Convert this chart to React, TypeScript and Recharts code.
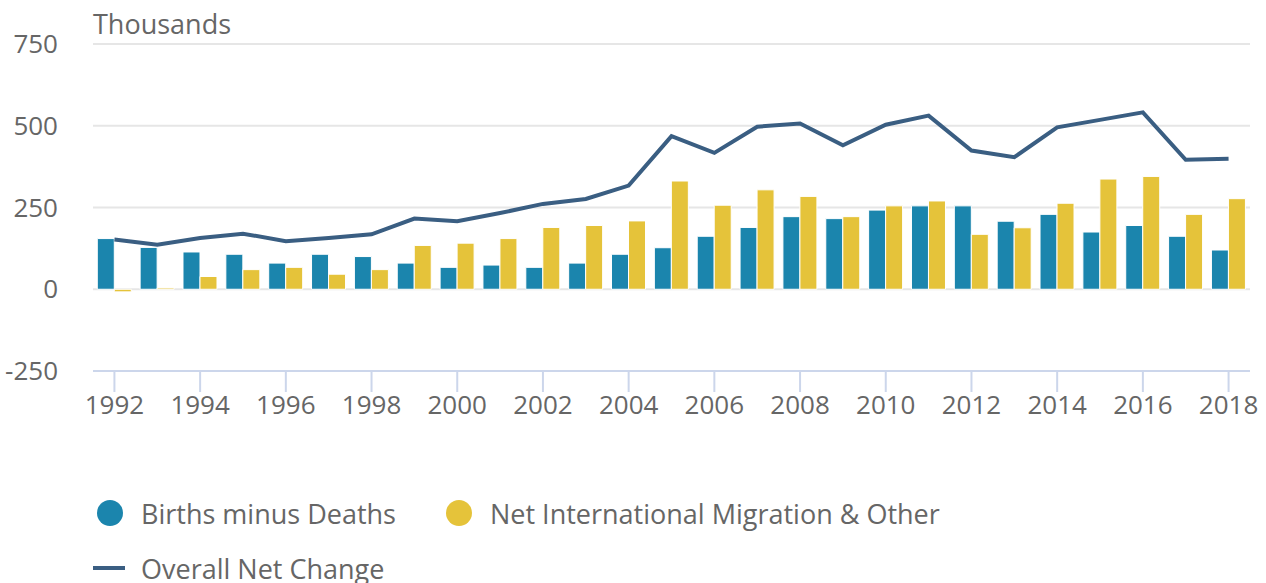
import React from 'react';
import { ComposedChart, Bar, Line, XAxis, YAxis, CartesianGrid, Legend } from 'recharts';

const years = ['1992','1993','1994','1995','1996','1997','1998','1999','2000','2001','2002','2003','2004','2005','2006','2007','2008','2009','2010','2011','2012','2013','2014','2015','2016','2017','2018'];
const birthsMinusDeaths = [155,128,114,107,80,107,100,80,67,74,67,80,107,127,162,189,222,216,242,255,255,208,229,175,195,162,120];
const netMigration = [-8,4,39,60,67,46,60,134,141,155,189,195,209,331,257,304,284,222,255,270,168,188,263,337,345,229,277];
const overallNet = [152,136,157,170,147,157,168,216,208,233,261,276,317,468,417,497,507,440,503,531,424,404,495,518,541,396,399];
const yTicks = [-250, 0, 250, 500, 750];

const data = years.map((y, i) => ({
  year: y,
  births: birthsMinusDeaths[i],
  migration: netMigration[i],
  net: overallNet[i],
}));

const FONT = '"Open Sans", sans-serif';
const TEXT = '#666666';
const BLUE = '#1b85ad';
const YELLOW = '#e5c33a';
const LINE = '#3a5e82';

const XTick = (props: any) => {
  const { x, y, payload } = props;
  return (
    <text x={x} y={y + 20} textAnchor="middle" fontFamily={FONT} fontSize={26} fill={TEXT}>
      {payload.value}
    </text>
  );
};

const YTick = (props: any) => {
  const { x, y, payload } = props;
  return (
    <text x={x} y={y + 9} textAnchor="end" fontFamily={FONT} fontSize={26} fill={TEXT}>
      {payload.value}
    </text>
  );
};

const TitleLabel = (props: any) => {
  const vb = props.viewBox || {};
  return (
    <text x={(vb.x || 0) + (vb.width || 0)} y={(vb.y || 0) - 10} textAnchor="start" fontFamily={FONT} fontSize={27} fill={TEXT}>
      Thousands
    </text>
  );
};

const renderLegend = (props: any) => {
  const payload = props.payload || [];
  const circles = payload.filter((p: any) => p.type !== 'line');
  const lines = payload.filter((p: any) => p.type === 'line');
  return (
    <div style={{ position: 'relative', width: 1266, height: 98, fontFamily: FONT, fontSize: 27, color: TEXT }}>
      <div style={{ position: 'absolute', left: 97, top: 1, height: 54, display: 'flex', alignItems: 'center' }}>
        {circles.map((p: any, i: number) => (
          <div key={i} style={{ display: 'flex', alignItems: 'center', marginRight: 50 }}>
            <span style={{ display: 'inline-block', width: 26, height: 26, borderRadius: 13, background: p.color, marginRight: 18 }} />
            <span style={{ whiteSpace: 'nowrap' }}>{p.value}</span>
          </div>
        ))}
      </div>
      <div style={{ position: 'absolute', left: 93, top: 56, height: 54, display: 'flex', alignItems: 'center' }}>
        {lines.map((p: any, i: number) => (
          <div key={i} style={{ display: 'flex', alignItems: 'center' }}>
            <span style={{ display: 'inline-block', width: 32, height: 4, background: p.color, marginRight: 16 }} />
            <span style={{ whiteSpace: 'nowrap' }}>{p.value}</span>
          </div>
        ))}
      </div>
    </div>
  );
};

export default function App() {
  return (
    <div style={{ position: 'absolute', left: 0, top: 0, width: 1266, height: 583, background: '#fff' }}>
      <ComposedChart
        width={1266}
        height={583}
        data={data}
        margin={{ top: 44, right: 16, bottom: 172, left: 0 }}
        barCategoryGap="10%"
        barGap={0}
      >
        <CartesianGrid vertical={false} stroke="#e6e6e6" strokeWidth={2} />
        <XAxis
          dataKey="year"
          interval={1}
          height={40}
          tickSize={21}
          tickMargin={2}
          axisLine={{ stroke: '#ccd6eb', strokeWidth: 2 }}
          tickLine={{ stroke: '#ccd6eb', strokeWidth: 2 }}
          tick={<XTick />}
        />
        <YAxis
          width={93}
          domain={[-250, 750]}
          ticks={yTicks}
          axisLine={false}
          tickLine={false}
          tickSize={0}
          tickMargin={35}
          tick={<YTick />}
          label={<TitleLabel />}
          allowDataOverflow
        />
        <Bar dataKey="births" name="Births minus Deaths" fill={BLUE} stroke="#ffffff" strokeWidth={1} isAnimationActive={false} legendType="circle" />
        <Bar dataKey="migration" name="Net International Migration & Other" fill={YELLOW} stroke="#ffffff" strokeWidth={1} isAnimationActive={false} legendType="circle" />
        <Line dataKey="net" name="Overall Net Change" type="linear" stroke={LINE} strokeWidth={4} dot={false} activeDot={false} isAnimationActive={false} legendType="line" />
        <Legend layout="horizontal" verticalAlign="middle" align="center" wrapperStyle={{ left: 0, top: 485, width: 1266 }} content={renderLegend} />
      </ComposedChart>
    </div>
  );
}
